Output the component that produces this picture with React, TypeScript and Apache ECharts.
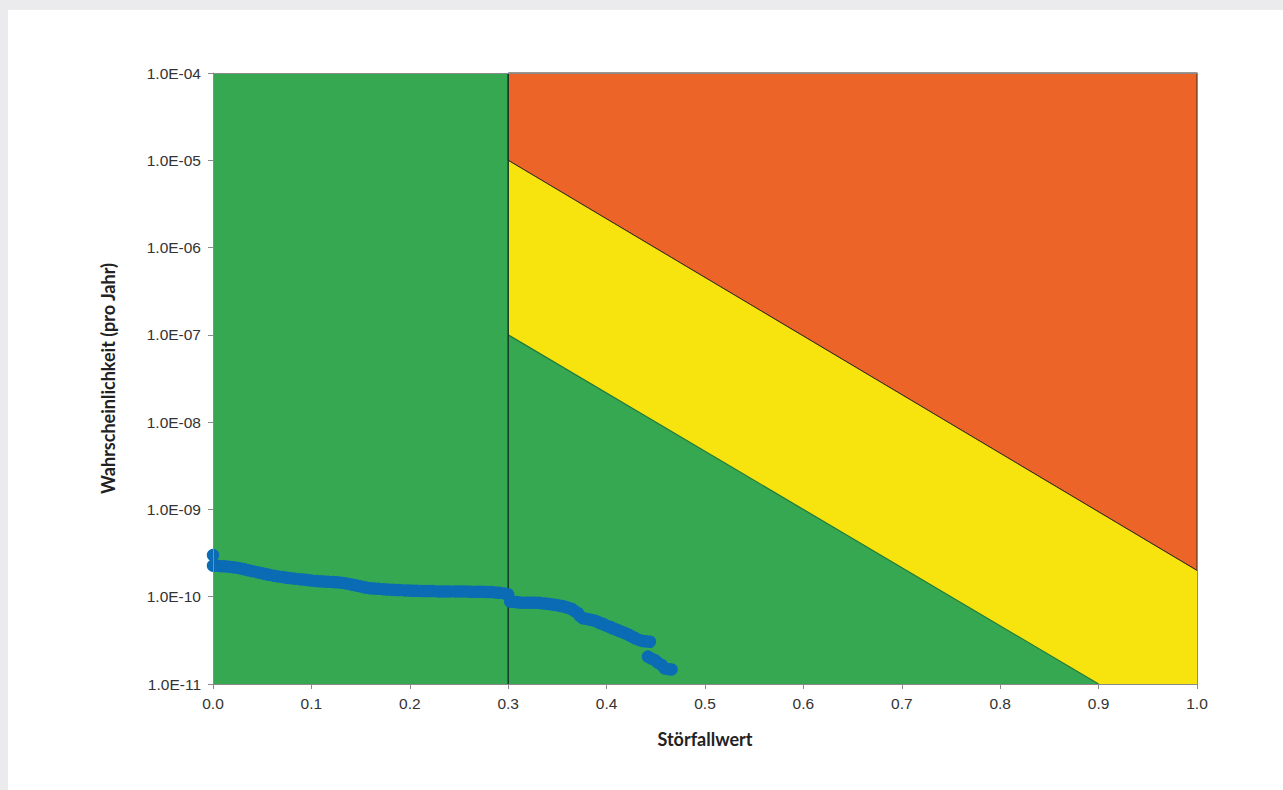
import React, { useEffect, useRef } from "react";
import * as echarts from "echarts";

// ---- data ----
const xTicks = [0, 0.1, 0.2, 0.3, 0.4, 0.5, 0.6, 0.7, 0.8, 0.9, 1.0];
const yMin = 1e-11;
const yMax = 1e-4;

const plotArea: [number, number][] = [
  [0, 1e-4],
  [1.0, 1e-4],
  [1.0, 1e-11],
  [0, 1e-11],
];
const redZone: [number, number][] = [
  [0.3, 1e-4],
  [1.0, 1e-4],
  [1.0, 2.0e-10],
  [0.3, 1e-5],
];
const yellowZone: [number, number][] = [
  [0.3, 1e-5],
  [1.0, 2.0e-10],
  [1.0, 1e-11],
  [0.9, 1e-11],
  [0.3, 1e-7],
];
const upperBoundary: [number, number][] = [
  [0.3, 1e-5],
  [1.0, 2.0e-10],
];
const lowerBoundary: [number, number][] = [
  [0.3, 1e-7],
  [0.9, 1e-11],
];
const thresholdLine: [number, number][] = [
  [0.3, 1e-4],
  [0.3, 1e-11],
];

// Störfallwert / Wahrscheinlichkeit pairs of the scenarios
const scenarioPoints: [number, number][] = [
  [0.0, 3.0e-10], [0.0, 2.27e-10], [0.004, 2.26e-10], [0.008, 2.24e-10], [0.012, 2.23e-10],
  [0.016, 2.21e-10], [0.02, 2.18e-10], [0.024, 2.15e-10], [0.028, 2.11e-10], [0.032, 2.06e-10],
  [0.036, 2.01e-10], [0.04, 1.96e-10], [0.045, 1.91e-10], [0.049, 1.87e-10], [0.053, 1.82e-10],
  [0.057, 1.78e-10], [0.062, 1.74e-10], [0.066, 1.71e-10], [0.071, 1.68e-10], [0.075, 1.65e-10],
  [0.079, 1.63e-10], [0.083, 1.61e-10], [0.088, 1.59e-10], [0.092, 1.57e-10], [0.096, 1.55e-10],
  [0.1, 1.53e-10], [0.105, 1.51e-10], [0.109, 1.5e-10], [0.113, 1.49e-10], [0.117, 1.48e-10],
  [0.122, 1.47e-10], [0.126, 1.46e-10], [0.13, 1.45e-10], [0.134, 1.43e-10], [0.138, 1.4e-10],
  [0.142, 1.37e-10], [0.146, 1.34e-10], [0.149, 1.32e-10], [0.153, 1.29e-10], [0.156, 1.27e-10],
  [0.16, 1.25e-10], [0.164, 1.24e-10], [0.168, 1.23e-10], [0.173, 1.22e-10], [0.177, 1.21e-10],
  [0.182, 1.2e-10], [0.186, 1.19e-10], [0.19, 1.19e-10], [0.195, 1.18e-10], [0.199, 1.18e-10],
  [0.203, 1.17e-10], [0.207, 1.17e-10], [0.212, 1.16e-10], [0.216, 1.16e-10], [0.22, 1.16e-10],
  [0.224, 1.16e-10], [0.229, 1.15e-10], [0.233, 1.15e-10], [0.237, 1.15e-10], [0.241, 1.15e-10],
  [0.246, 1.15e-10], [0.25, 1.15e-10], [0.254, 1.15e-10], [0.258, 1.15e-10], [0.262, 1.14e-10],
  [0.267, 1.14e-10], [0.271, 1.14e-10], [0.275, 1.14e-10], [0.279, 1.13e-10], [0.283, 1.13e-10],
  [0.287, 1.12e-10], [0.291, 1.11e-10], [0.296, 1.09e-10], [0.3, 1.06e-10], [0.302, 8.8e-11],
  [0.305, 8.75e-11], [0.308, 8.7e-11], [0.311, 8.6e-11], [0.314, 8.55e-11], [0.318, 8.55e-11],
  [0.321, 8.55e-11], [0.324, 8.55e-11], [0.327, 8.55e-11], [0.331, 8.5e-11], [0.334, 8.4e-11],
  [0.338, 8.35e-11], [0.341, 8.26e-11], [0.345, 8.15e-11], [0.348, 8.05e-11], [0.351, 7.95e-11],
  [0.354, 7.83e-11], [0.357, 7.7e-11], [0.36, 7.5e-11], [0.363, 7.35e-11], [0.365, 7.18e-11],
  [0.368, 6.8e-11], [0.371, 6.46e-11], [0.373, 6.0e-11], [0.376, 5.66e-11], [0.379, 5.6e-11],
  [0.382, 5.5e-11], [0.385, 5.4e-11], [0.388, 5.32e-11], [0.391, 5.15e-11], [0.393, 5.0e-11],
  [0.396, 4.9e-11], [0.398, 4.75e-11], [0.401, 4.6e-11], [0.404, 4.5e-11], [0.406, 4.35e-11],
  [0.409, 4.24e-11], [0.412, 4.1e-11], [0.414, 4.0e-11], [0.417, 3.9e-11], [0.419, 3.81e-11],
  [0.422, 3.7e-11], [0.424, 3.57e-11], [0.427, 3.45e-11], [0.429, 3.34e-11], [0.433, 3.2e-11],
  [0.437, 3.11e-11], [0.44, 3.08e-11], [0.444, 3.05e-11], [0.442, 2.06e-11], [0.445, 1.97e-11],
  [0.449, 1.88e-11], [0.452, 1.76e-11], [0.456, 1.65e-11], [0.459, 1.51e-11], [0.463, 1.48e-11],
  [0.466, 1.47e-11],
];

const GREEN = "#37a852";
const ORANGE = "#ec6427";
const YELLOW = "#f7e30e";
const BLUE = "#0b6cb5";

function zoneSeries(zone: [number, number][], fill: string, stroke: string | null, z: number) {
  return {
    type: "custom",
    z,
    silent: true,
    data: zone,
    renderItem: (params: any, api: any) => {
      if (params.dataIndex !== 0) return null;
      const pts = zone.map((p) => api.coord(p));
      return {
        type: "polygon",
        shape: { points: pts },
        style: {
          fill,
          stroke: stroke || "none",
          lineWidth: stroke ? 1 : 0,
        },
      };
    },
  };
}

function lineSeries(data: [number, number][], color: string, width: number, z: number) {
  return {
    type: "line",
    z,
    silent: true,
    data,
    symbol: "none",
    lineStyle: { color, width },
  };
}

function yLabel(v: number) {
  const e = Math.round(Math.log10(v));
  const abs = Math.abs(e);
  return "1.0E" + (e < 0 ? "-" : "+") + (abs < 10 ? "0" : "") + abs;
}

export default function App() {
  const ref = useRef<HTMLDivElement>(null);
  useEffect(() => {
    if (!ref.current) return;
    const chart = echarts.init(ref.current, undefined, { renderer: "svg" });
    const axisLineStyle = { color: "#8a8a8a", width: 1 };
    const tickFont = {
      fontFamily: "Liberation Sans, Arial, sans-serif",
      fontSize: 15.5,
      color: "#333333",
    };
    const titleFont = {
      fontFamily: "Lato, sans-serif",
      fontWeight: "bold",
      fontSize: 18,
      color: "#222222",
    };
    const option: any = {
      animation: false,
      grid: { left: 213, right: 86, top: 73, bottom: 106, containLabel: false },
      xAxis: [
        {
          type: "value",
          min: xTicks[0],
          max: xTicks[xTicks.length - 1],
          interval: 0.1,
          z: 10,
          axisLine: { show: true, onZero: false, lineStyle: axisLineStyle },
          axisTick: { show: true, length: 5, lineStyle: axisLineStyle },
          splitLine: { show: false },
          axisLabel: {
            margin: 11,
            ...tickFont,
            formatter: (v: number) => v.toFixed(1),
          },
          name: "Störfallwert",
          nameLocation: "middle",
          nameGap: 46,
          nameTextStyle: titleFont,
        },
        {
          type: "value",
          position: "top",
          min: 0,
          max: 1,
          z: 10,
          axisLine: { show: true, onZero: false, lineStyle: axisLineStyle },
          axisTick: { show: false },
          axisLabel: { show: false },
          splitLine: { show: false },
        },
      ],
      yAxis: [
        {
          type: "log",
          logBase: 10,
          min: yMin,
          max: yMax,
          splitNumber: 7,
          z: 10,
          axisLine: { show: true, onZero: false, lineStyle: axisLineStyle },
          axisTick: { show: true, length: 5, lineStyle: axisLineStyle },
          minorTick: { show: false },
          splitLine: { show: false },
          axisLabel: {
            margin: 12,
            ...tickFont,
            formatter: yLabel,
          },
          name: "Wahrscheinlichkeit (pro Jahr)",
          nameLocation: "middle",
          nameGap: 96,
          nameTextStyle: titleFont,
        },
        {
          type: "log",
          logBase: 10,
          position: "right",
          min: yMin,
          max: yMax,
          z: 10,
          axisLine: { show: true, onZero: false, lineStyle: axisLineStyle },
          axisTick: { show: false },
          axisLabel: { show: false },
          splitLine: { show: false },
        },
      ],
      series: [
        zoneSeries(plotArea, GREEN, null, 1),
        zoneSeries(redZone, ORANGE, "#3a2a22", 2),
        zoneSeries(yellowZone, YELLOW, null, 2),
        lineSeries(upperBoundary, "#3a2a22", 1, 3),
        lineSeries(lowerBoundary, "#1f7a3a", 1.2, 3),
        lineSeries(thresholdLine, "#163a26", 1.5, 3),
        {
          type: "scatter",
          z: 5,
          symbol: "circle",
          symbolSize: 12.5,
          itemStyle: { color: BLUE, opacity: 1 },
          data: scenarioPoints,
        },
      ],
    };
    chart.setOption(option);
    return () => chart.dispose();
  }, []);

  return (
    <div
      style={{
        position: "fixed",
        left: 0,
        top: 0,
        width: 1283,
        height: 790,
        background: "#ebebed",
        overflow: "hidden",
      }}
    >
      <div
        style={{
          position: "absolute",
          left: 8,
          top: 10,
          right: 0,
          bottom: 0,
          background: "#ffffff",
        }}
      />
      <div
        ref={ref}
        style={{ position: "absolute", left: 0, top: 0, width: 1283, height: 790 }}
      />
    </div>
  );
}
